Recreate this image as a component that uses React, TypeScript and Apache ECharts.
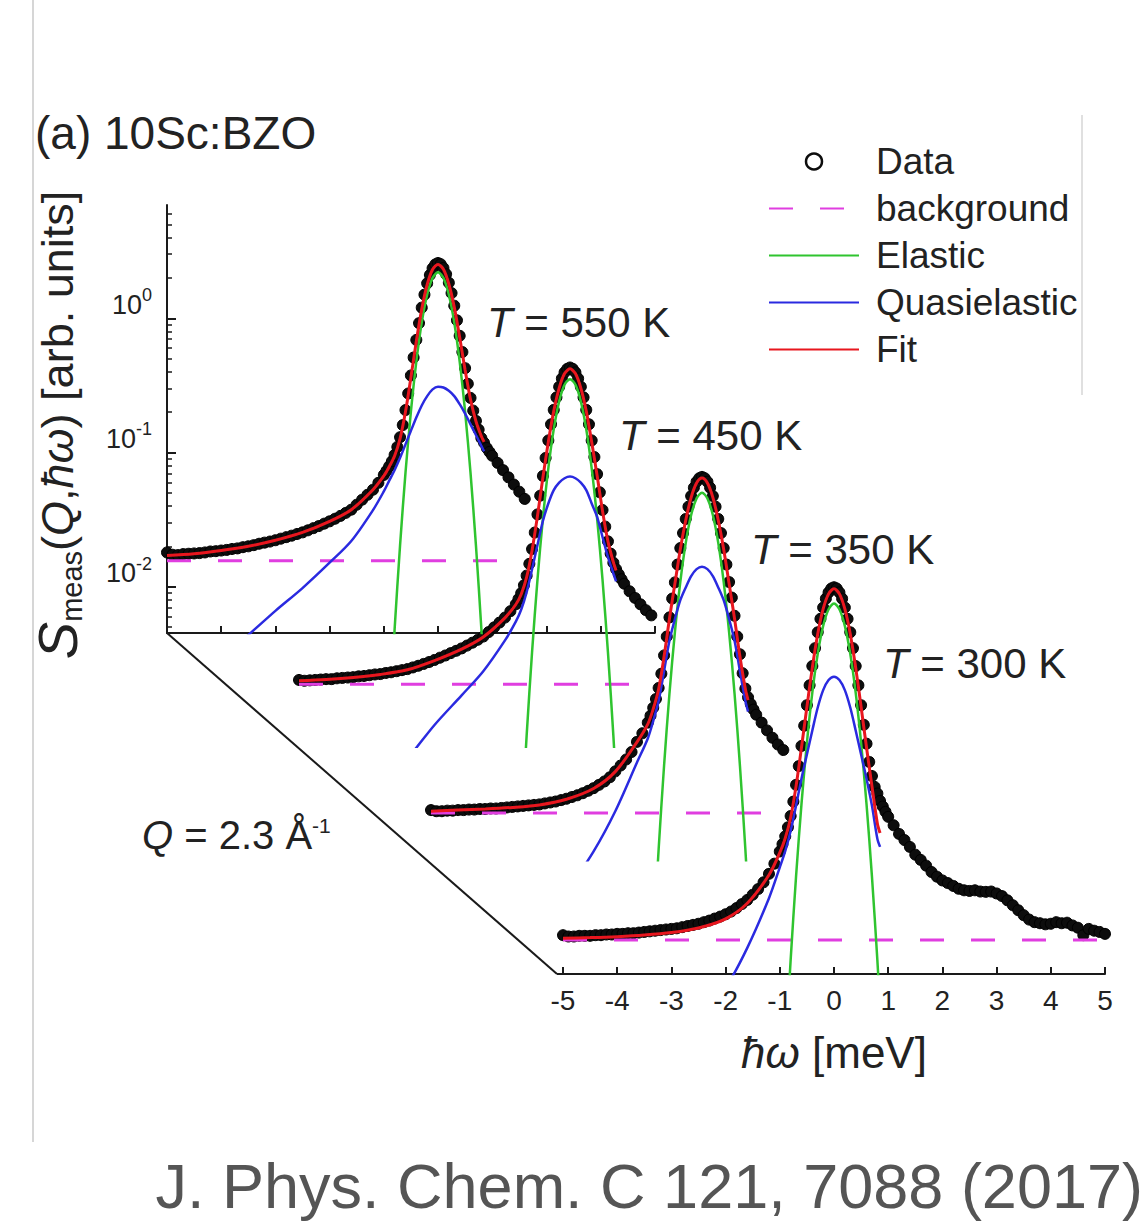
import React, { useEffect, useRef } from 'react';
import * as echarts from 'echarts';

// ---------------- DATA ----------------
const temperatureLabels = ['550 K', '450 K', '350 K', '300 K'];

const dataEnergy = [
  -5.0, -4.9, -4.8, -4.7, -4.6, -4.5, -4.4, -4.3, -4.2, -4.1,
  -4.0, -3.9, -3.8, -3.7, -3.6, -3.5, -3.4, -3.3, -3.2, -3.1,
  -3.0, -2.9, -2.8, -2.7, -2.6, -2.5, -2.4, -2.3, -2.2, -2.1,
  -2.0, -1.9, -1.8, -1.7, -1.6, -1.5, -1.4, -1.3, -1.2, -1.1,
  -1.0, -0.95, -0.9, -0.85, -0.8, -0.75, -0.7, -0.65, -0.6, -0.55,
  -0.5, -0.45, -0.4, -0.35, -0.3, -0.25, -0.2, -0.15, -0.1, -0.05,
  0,
  0.05, 0.1, 0.15, 0.2, 0.25, 0.3, 0.35, 0.4, 0.45, 0.5,
  0.55, 0.6, 0.65, 0.7, 0.75, 0.8, 0.85, 0.9, 0.95, 1.0,
  1.1, 1.2, 1.3, 1.4, 1.5, 1.6, 1.7, 1.8, 1.9, 2.0,
  2.1, 2.2, 2.3, 2.4, 2.5, 2.6, 2.7, 2.8, 2.9, 3.0,
  3.1, 3.2, 3.3, 3.4, 3.5, 3.6, 3.7, 3.8, 3.9, 4.0,
  4.1, 4.2, 4.3, 4.4, 4.5, 4.6, 4.7, 4.8, 4.9, 5.0,
];

const data550 = [
  0.0180, 0.0173, 0.0172, 0.0175, 0.0176, 0.0177, 0.0178, 0.0180, 0.0183, 0.0184,
  0.0186, 0.0188, 0.0191, 0.0193, 0.0197, 0.0200, 0.0204, 0.0209, 0.0213, 0.0217,
  0.0222, 0.0228, 0.0234, 0.0240, 0.0247, 0.0254, 0.0263, 0.0273, 0.0283, 0.0295,
  0.0307, 0.0321, 0.0337, 0.0355, 0.0375, 0.0408, 0.0445, 0.0484, 0.0528, 0.0594,
  0.068, 0.073, 0.079, 0.086, 0.096, 0.110, 0.130, 0.160, 0.207, 0.275,
  0.375, 0.51, 0.69, 0.92, 1.20, 1.50, 1.82, 2.10, 2.36, 2.52,
  2.58,
  2.53, 2.37, 2.13, 1.84, 1.54, 1.24, 0.965, 0.74, 0.56, 0.425,
  0.325, 0.255, 0.205, 0.172, 0.148, 0.128, 0.118, 0.108, 0.101, 0.0945,
  0.0836, 0.0739, 0.0653, 0.0577, 0.0510, 0.0451,
];

const data450 = [
  0.0142, 0.0140, 0.0141, 0.0142, 0.0143, 0.0144, 0.0144, 0.0146, 0.0147, 0.0148,
  0.0149, 0.0151, 0.0152, 0.0154, 0.0156, 0.0157, 0.0160, 0.0162, 0.0165, 0.0168,
  0.0171, 0.0176, 0.0181, 0.0187, 0.0193, 0.0200, 0.0208, 0.0216, 0.0225, 0.0234,
  0.0244, 0.0256, 0.0269, 0.0283, 0.0299, 0.0323, 0.0350, 0.0380, 0.0414, 0.0462,
  0.052, 0.057, 0.063, 0.072, 0.085, 0.104, 0.134, 0.178, 0.243, 0.335,
  0.47, 0.64, 0.865, 1.14, 1.46, 1.81, 2.17, 2.50, 2.78, 2.95,
  3.02,
  2.95, 2.78, 2.50, 2.17, 1.81, 1.46, 1.14, 0.865, 0.65, 0.485,
  0.355, 0.262, 0.197, 0.153, 0.124, 0.106, 0.095, 0.087, 0.080, 0.074,
  0.065, 0.058, 0.052, 0.047, 0.043,
];

const data350 = [
  0.0107, 0.0105, 0.0105, 0.0106, 0.0106, 0.0107, 0.0107, 0.0108, 0.0108, 0.0109,
  0.0109, 0.0110, 0.0110, 0.0111, 0.0112, 0.0113, 0.0114, 0.0115, 0.0116, 0.0117,
  0.0118, 0.0120, 0.0122, 0.0124, 0.0127, 0.0130, 0.0134, 0.0138, 0.0143, 0.0149,
  0.0156, 0.0165, 0.0175, 0.0188, 0.0208, 0.0230, 0.0255, 0.0290, 0.0345, 0.0400,
  0.048, 0.054, 0.062, 0.072, 0.087, 0.111, 0.152, 0.210, 0.292, 0.403,
  0.532, 0.723, 0.958, 1.24, 1.58, 1.95, 2.34, 2.70, 2.99, 3.18,
  3.25,
  3.18, 2.99, 2.70, 2.34, 1.95, 1.58, 1.24, 0.958, 0.723, 0.535,
  0.410, 0.300, 0.210, 0.155, 0.112, 0.086, 0.074, 0.066, 0.060, 0.055,
  0.048, 0.042, 0.037, 0.033, 0.030,
];

const data300 = [
  0.0088, 0.0086, 0.0086, 0.0087, 0.0087, 0.0087, 0.0088, 0.0088, 0.0089, 0.0089,
  0.0090, 0.0090, 0.0091, 0.0091, 0.0092, 0.0093, 0.0094, 0.0095, 0.0096, 0.0097,
  0.0098, 0.0099, 0.0101, 0.0103, 0.0105, 0.0107, 0.0110, 0.0113, 0.0117, 0.0121,
  0.0126, 0.0132, 0.0140, 0.0150, 0.0161, 0.0176, 0.0194, 0.0218, 0.0252, 0.0300,
  0.037, 0.042, 0.048, 0.056, 0.068, 0.087, 0.116, 0.160, 0.226, 0.320,
  0.455, 0.64, 0.89, 1.21, 1.59, 2.00, 2.43, 2.83, 3.15, 3.37,
  3.44,
  3.37, 3.15, 2.83, 2.43, 2.00, 1.59, 1.21, 0.89, 0.64, 0.455,
  0.325, 0.235, 0.172, 0.135, 0.112, 0.100, 0.088, 0.080, 0.073, 0.067,
  0.058, 0.050, 0.045, 0.040, 0.035, 0.032, 0.029, 0.026, 0.024, 0.0225,
  0.0215, 0.0205, 0.0195, 0.0190, 0.0188, 0.0190, 0.0186, 0.0185, 0.0186, 0.0180,
  0.0172, 0.0160, 0.0147, 0.0135, 0.0124, 0.0115, 0.0110, 0.0108, 0.0106, 0.0107,
  0.0110, 0.0108, 0.0109, 0.0104, 0.0100, 0.0088, 0.0098, 0.0095, 0.0093, 0.0090,
];

const fitEnergy = [
  -5, -4.5, -4, -3.5, -3, -2.5, -2, -1.6, -1.2, -1, -0.9, -0.8, -0.7, -0.6, -0.5,
  -0.4, -0.3, -0.2, -0.1, 0, 0.1, 0.2, 0.3, 0.4, 0.5, 0.6, 0.7, 0.8, 0.85,
];

const fit550 = [
  0.0171, 0.0176, 0.0186, 0.0200, 0.0222, 0.0254, 0.0307, 0.0375, 0.0528, 0.0669, 0.0783, 0.0946, 0.127, 0.201, 0.362,
  0.674, 1.17, 1.78, 2.31, 2.52, 2.32, 1.80, 1.21, 0.721, 0.412, 0.248, 0.171, 0.132, 0.120,
];
const quasi550 = [
  0.00145, 0.00204, 0.00295, 0.00437, 0.00661, 0.00977, 0.0151, 0.0219, 0.0372, 0.0513, 0.0617, 0.0741, 0.0912, 0.115, 0.145,
  0.182, 0.224, 0.263, 0.295, 0.309, 0.305, 0.288, 0.263, 0.229, 0.195, 0.162, 0.135, 0.112, 0.102,
];
const fit450 = [
  0.0140, 0.0143, 0.0148, 0.0156, 0.0169, 0.0198, 0.0241, 0.0297, 0.0412, 0.0518, 0.0618, 0.0828, 0.131, 0.237, 0.457,
  0.842, 1.428, 2.12, 2.72, 2.95, 2.72, 2.12, 1.43, 0.842, 0.473, 0.258, 0.153, 0.107, 0.0928,
];
const quasi450 = [
  0.000736, 0.00104, 0.00154, 0.00233, 0.00369, 0.00656, 0.0109, 0.0165, 0.0280, 0.0386, 0.0475, 0.0641, 0.0948, 0.144, 0.217,
  0.293, 0.369, 0.419, 0.452, 0.465, 0.452, 0.419, 0.369, 0.293, 0.233, 0.165, 0.117, 0.0885, 0.0771,
];
const fit350 = [
  0.0105, 0.0107, 0.0109, 0.0112, 0.0117, 0.0129, 0.0155, 0.0207, 0.0344, 0.0468, 0.0606, 0.0854, 0.149, 0.286, 0.521,
  0.939, 1.546, 2.29, 2.93, 3.19, 2.93, 2.29, 1.546, 0.939, 0.521, 0.286, 0.149, 0.0854, 0.0706,
];
const quasi350 = [
  0.00033, 0.00046, 0.00065, 0.00096, 0.00152, 0.00265, 0.00528, 0.0105, 0.0242, 0.0366, 0.0493, 0.0697, 0.116, 0.196, 0.284,
  0.392, 0.488, 0.593, 0.668, 0.697, 0.668, 0.593, 0.488, 0.392, 0.284, 0.196, 0.116, 0.0697, 0.0579,
];
const fit300 = [
  0.00835, 0.00844, 0.00858, 0.00881, 0.0092, 0.00996, 0.01165, 0.0152, 0.0247, 0.0363, 0.0464, 0.0663, 0.1135, 0.220, 0.442,
  0.867, 1.545, 2.37, 3.07, 3.35, 3.07, 2.37, 1.545, 0.867, 0.442, 0.220, 0.1135, 0.0598, 0.0507,
];
const quasi300 = [
  0.000245, 0.000339, 0.000479, 0.000708, 0.0011, 0.00186, 0.00355, 0.00708, 0.0166, 0.0282, 0.0372, 0.0525, 0.0813, 0.129, 0.195,
  0.295, 0.437, 0.589, 0.700, 0.741, 0.700, 0.589, 0.437, 0.295, 0.195, 0.129, 0.0813, 0.046, 0.040,
];

const elasticEnergy = [-0.9, -0.8, -0.7, -0.6, -0.5, -0.4, -0.3, -0.2, -0.1, 0, 0.1, 0.2, 0.3, 0.4, 0.5, 0.6, 0.7, 0.8, 0.9];
const elastic550 = [0.000956, 0.00485, 0.0203, 0.0705, 0.2015, 0.476, 0.930, 1.50, 2.00, 2.20, 2.00, 1.50, 0.930, 0.476, 0.2015, 0.0705, 0.0203, 0.00485, 0.000956];
const elastic450 = [0.00108, 0.00546, 0.0229, 0.0793, 0.227, 0.536, 1.046, 1.69, 2.25, 2.47, 2.25, 1.69, 1.046, 0.536, 0.227, 0.0793, 0.0229, 0.00546, 0.00108];
const elastic350 = [0.00108, 0.00547, 0.0229, 0.0794, 0.227, 0.537, 1.048, 1.69, 2.25, 2.48, 2.25, 1.69, 1.048, 0.537, 0.227, 0.0794, 0.0229, 0.00547, 0.00108];
const elastic300 = [0.00113, 0.00574, 0.0241, 0.0834, 0.2385, 0.564, 1.10, 1.774, 2.36, 2.60, 2.36, 1.774, 1.10, 0.564, 0.2385, 0.0834, 0.0241, 0.00574, 0.00113];

const backgroundLevel = [0.0156, 0.0132, 0.0102, 0.0081];
const backgroundEnd = [1.27, 1.25, 1.25, 5.0];

const yMajorTicks = [0.01, 0.1, 1];
const yMajorExponents = ['-2', '-1', '0'];
const yMinorTicks = [
  0.005, 0.006, 0.007, 0.008, 0.009,
  0.02, 0.03, 0.04, 0.05, 0.06, 0.07, 0.08, 0.09,
  0.2, 0.3, 0.4, 0.5, 0.6, 0.7, 0.8, 0.9,
  2, 3, 4, 5, 6,
];

// ---------------- LAYOUT / STYLE ----------------
const FONT = '"Liberation Sans", Arial, Helvetica, sans-serif';
const LEFT0 = 167;
const BASE0 = 633;
const STEP_X = 132;
const STEP_Y = 113.67;
const PX_PER_MEV = 54.2;
const PLOT_H = 428;
const Y_MIN = 0.00452;
const Y_MAX = 6.98;
const AXIS_COLOR = '#1a1a1a';
const TEXT_COLOR = '#222';

const C_DATA = '#0d0d0d';
const C_BG = '#e03ee0';
const C_EL = '#2fc42f';
const C_QE = '#2a2ae0';
const C_FIT = '#e8161e';

const panels = [
  { data: data550, fit: fit550, quasi: quasi550, elastic: elastic550 },
  { data: data450, fit: fit450, quasi: quasi450, elastic: elastic450 },
  { data: data350, fit: fit350, quasi: quasi350, elastic: elastic350 },
  { data: data300, fit: fit300, quasi: quasi300, elastic: elastic300 },
];

function buildOption() {
  const grids = panels.map((_, k) => {
    const xMax = k === 0 ? 4 : 5;
    return {
      left: LEFT0 + STEP_X * k,
      top: BASE0 + STEP_Y * k - PLOT_H,
      width: (xMax + 5) * PX_PER_MEV,
      height: PLOT_H,
      containLabel: false,
      outerBoundsMode: 'none',
    };
  });

  const xAxes = panels.map((_, k) => ({
    gridIndex: k,
    type: 'value',
    min: -5,
    max: k === 0 ? 4 : 5,
    interval: 1,
    show: k === 0 || k === 3,
    axisLine: { show: true, onZero: false, lineStyle: { color: AXIS_COLOR, width: 2 } },
    axisTick: { show: true, inside: true, length: 7, lineStyle: { color: AXIS_COLOR, width: 2 } },
    axisLabel: { show: k === 3, fontSize: 28, color: TEXT_COLOR, margin: 12, fontFamily: FONT },
    splitLine: { show: false },
    name: k === 3 ? '{i|ħω} [meV]' : '',
    nameLocation: 'middle',
    nameGap: 56,
    nameTextStyle: {
      fontSize: 44,
      color: TEXT_COLOR,
      fontFamily: FONT,
      rich: { i: { fontStyle: 'italic', fontSize: 44, color: TEXT_COLOR, fontFamily: FONT } },
    },
  }));

  const logBase = { type: 'log', logBase: 10, min: Y_MIN, max: Y_MAX, splitLine: { show: false } };
  const yAxes: any[] = [
    {
      ...logBase,
      gridIndex: 0,
      position: 'left',
      axisLine: { show: true, onZero: false, lineStyle: { color: AXIS_COLOR, width: 2 } },
      axisTick: { show: true, inside: true, length: 9, customValues: yMajorTicks, lineStyle: { color: AXIS_COLOR, width: 2 } },
      minorTick: { show: false },
      axisLabel: {
        show: true,
        customValues: yMajorTicks,
        margin: 15,
        verticalAlign: 'bottom',
        color: TEXT_COLOR,
        fontFamily: FONT,
        formatter: (v: number) => {
          const i = yMajorTicks.findIndex((t) => Math.abs(t - v) / t < 1e-6);
          return i < 0 ? '' : `{b|10}{s|${yMajorExponents[i]}}`;
        },
        rich: {
          b: { fontSize: 27, lineHeight: 32, verticalAlign: 'bottom', color: TEXT_COLOR, fontFamily: FONT },
          s: { fontSize: 18, lineHeight: 20, verticalAlign: 'top', color: TEXT_COLOR, fontFamily: FONT },
        },
      },
    },
    {
      ...logBase,
      gridIndex: 0,
      position: 'left',
      axisLine: { show: false, onZero: false },
      axisTick: { show: true, inside: true, length: 5, customValues: yMinorTicks, lineStyle: { color: AXIS_COLOR, width: 1.5 } },
      axisLabel: { show: false },
    },
    { ...logBase, gridIndex: 1, show: false },
    { ...logBase, gridIndex: 2, show: false },
    { ...logBase, gridIndex: 3, show: false },
  ];

  const series: any[] = [];
  panels.forEach((p, k) => {
    const yIdx = k === 0 ? 0 : k + 1;
    const common = { xAxisIndex: k, yAxisIndex: yIdx, silent: true, animation: false };
    series.push({
      ...common,
      name: 'Data',
      type: 'scatter',
      symbol: 'circle',
      symbolSize: 11,
      itemStyle: { color: C_DATA, opacity: 1, borderColor: '#000', borderWidth: 1 },
      data: p.data.map((v, i) => [dataEnergy[i], v]),
    });
    series.push({
      ...common,
      name: 'background',
      type: 'line',
      symbol: 'none',
      color: C_BG,
      lineStyle: { color: C_BG, width: 3, type: [24, 27] },
      data: [[-5, backgroundLevel[k]], [backgroundEnd[k], backgroundLevel[k]]],
    });
    series.push({
      ...common,
      name: 'Elastic',
      type: 'line',
      symbol: 'none',
      smooth: 0.3,
      color: C_EL,
      lineStyle: { color: C_EL, width: 2.5 },
      data: p.elastic.map((v, i) => [elasticEnergy[i], v]),
    });
    series.push({
      ...common,
      name: 'Quasielastic',
      type: 'line',
      symbol: 'none',
      smooth: 0.3,
      color: C_QE,
      lineStyle: { color: C_QE, width: 2.5 },
      data: p.quasi.map((v, i) => [fitEnergy[i], v]),
    });
    series.push({
      ...common,
      name: 'Fit',
      type: 'line',
      symbol: 'none',
      smooth: 0.3,
      color: C_FIT,
      lineStyle: { color: C_FIT, width: 3 },
      data: p.fit.map((v, i) => [fitEnergy[i], v]),
    });
  });

  const cornerX = LEFT0 + STEP_X * 3;
  const cornerY = BASE0 + STEP_Y * 3;

  const graphic: any[] = [
    { type: 'line', silent: true, shape: { x1: 33, y1: 0, x2: 33, y2: 1142 }, style: { stroke: '#d6d6d6', lineWidth: 2 } },
    { type: 'line', silent: true, shape: { x1: 1082, y1: 115, x2: 1082, y2: 395 }, style: { stroke: '#d6d6d6', lineWidth: 1.5 } },
    { type: 'line', silent: true, shape: { x1: LEFT0, y1: BASE0, x2: cornerX - 6, y2: cornerY }, style: { stroke: AXIS_COLOR, lineWidth: 2 } },
    { type: 'line', silent: true, shape: { x1: cornerX - 6, y1: cornerY, x2: cornerX, y2: cornerY }, style: { stroke: AXIS_COLOR, lineWidth: 2 } },
    {
      type: 'text', silent: true, x: 35, y: 133,
      style: { text: '(a) 10Sc:BZO', fontSize: 46, fontFamily: FONT, fill: TEXT_COLOR, align: 'left', verticalAlign: 'middle' },
    },
    {
      type: 'text', silent: true, x: 142, y: 835,
      style: {
        text: '{i|Q} = 2.3 Å{s|-1}', fontSize: 40, fontFamily: FONT, fill: TEXT_COLOR, align: 'left', verticalAlign: 'middle',
        rich: {
          i: { fontStyle: 'italic', fontSize: 40, fontFamily: FONT, fill: TEXT_COLOR },
          s: { fontSize: 21, lineHeight: 31, verticalAlign: 'top', fontFamily: FONT, fill: TEXT_COLOR },
        },
      },
    },
    {
      type: 'text', silent: true, x: 57, y: 425, rotation: Math.PI / 2,
      style: {
        text: '{S|S}{sub|meas}{n|(}{i|Q}{n|,}{i|ħω}{n|) [arb. units]}',
        align: 'center', verticalAlign: 'middle', fontFamily: FONT, fill: TEXT_COLOR,
        rich: {
          S: { fontStyle: 'italic', fontSize: 56, lineHeight: 58, verticalAlign: 'middle', fontFamily: FONT, fill: TEXT_COLOR },
          sub: { fontSize: 29, lineHeight: 34, verticalAlign: 'bottom', fontFamily: FONT, fill: TEXT_COLOR },
          n: { fontSize: 45, lineHeight: 58, verticalAlign: 'middle', fontFamily: FONT, fill: TEXT_COLOR },
          i: { fontStyle: 'italic', fontSize: 45, lineHeight: 58, verticalAlign: 'middle', fontFamily: FONT, fill: TEXT_COLOR },
        },
      },
    },
    {
      type: 'text', silent: true, x: 1143, y: 1186,
      style: { text: 'J. Phys. Chem. C 121, 7088 (2017)', fontSize: 63, fontFamily: FONT, fill: '#555555', align: 'right', verticalAlign: 'middle' },
    },
  ];

  temperatureLabels.forEach((t, k) => {
    graphic.push({
      type: 'text', silent: true,
      x: LEFT0 + STEP_X * k + 320,
      y: BASE0 + STEP_Y * k - 311,
      style: {
        text: `{i|T} = ${t}`, fontSize: 42, fontFamily: FONT, fill: TEXT_COLOR, align: 'left', verticalAlign: 'middle',
        rich: { i: { fontStyle: 'italic', fontSize: 42, fontFamily: FONT, fill: TEXT_COLOR } },
      },
    });
  });

  const hiddenSymbol = { color: 'rgba(0,0,0,0)', borderWidth: 0, opacity: 0 };

  return {
    animation: false,
    backgroundColor: '#ffffff',
    textStyle: { fontFamily: FONT },
    grid: grids,
    xAxis: xAxes,
    yAxis: yAxes,
    legend: {
      orient: 'vertical',
      left: 768,
      top: 143,
      padding: 0,
      itemWidth: 90,
      itemHeight: 16,
      itemGap: 10,
      selectedMode: false,
      textStyle: { fontSize: 37, lineHeight: 36, color: TEXT_COLOR, fontFamily: FONT, padding: [0, 0, 0, 12] },
      data: [
        { name: 'Data', icon: 'circle', itemStyle: { color: '#ffffff', borderColor: C_DATA, borderWidth: 2.5 } },
        { name: 'background', itemStyle: hiddenSymbol },
        { name: 'Elastic', itemStyle: hiddenSymbol },
        { name: 'Quasielastic', itemStyle: hiddenSymbol },
        { name: 'Fit', itemStyle: hiddenSymbol },
      ],
    },
    series,
    graphic,
  };
}

export default function App() {
  const ref = useRef<HTMLDivElement | null>(null);
  useEffect(() => {
    document.body.style.margin = '0';
    if (!ref.current) return;
    const chart = echarts.init(ref.current, undefined, { renderer: 'svg' });
    chart.setOption(buildOption() as any);
    return () => {
      chart.dispose();
    };
  }, []);
  return <div ref={ref} style={{ width: 1148, height: 1224, background: '#fff' }} />;
}
